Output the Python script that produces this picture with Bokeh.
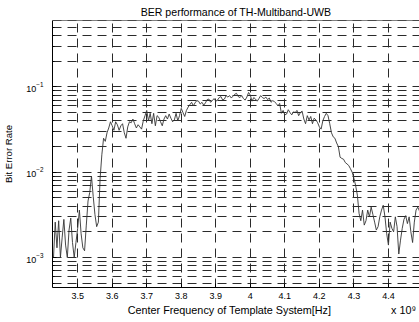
from bokeh.plotting import figure
from bokeh.models import FixedTicker, LogTickFormatter, Span, Range1d
from bokeh.embed import file_html
from bokeh.resources import INLINE

# Center frequency of template system (GHz, axis shows x 10^9)
freq_ghz = [
    3.430, 3.435, 3.440, 3.445, 3.450, 3.455, 3.460, 3.465, 3.470, 3.475,
    3.480, 3.485, 3.490, 3.495, 3.500, 3.505, 3.510, 3.515, 3.520, 3.525,
    3.530, 3.535, 3.540, 3.545, 3.550, 3.555, 3.560, 3.565, 3.570, 3.575,
    3.580, 3.585, 3.590, 3.595, 3.600, 3.605, 3.610, 3.615, 3.620, 3.625,
    3.630, 3.635, 3.640, 3.645, 3.650, 3.655, 3.660, 3.665, 3.670, 3.675,
    3.680, 3.685, 3.690, 3.695, 3.700, 3.705, 3.710, 3.715, 3.720, 3.725,
    3.730, 3.735, 3.740, 3.745, 3.750, 3.755, 3.760, 3.765, 3.770, 3.775,
    3.780, 3.785, 3.790, 3.795, 3.800, 3.805, 3.810, 3.815, 3.820, 3.825,
    3.830, 3.835, 3.840, 3.845, 3.850, 3.855, 3.860, 3.865, 3.870, 3.875,
    3.880, 3.885, 3.890, 3.895, 3.900, 3.905, 3.910, 3.915, 3.920, 3.925,
    3.930, 3.935, 3.940, 3.945, 3.950, 3.955, 3.960, 3.965, 3.970, 3.975,
    3.980, 3.985, 3.990, 3.995, 4.000, 4.005, 4.010, 4.015, 4.020, 4.025,
    4.030, 4.035, 4.040, 4.045, 4.050, 4.055, 4.060, 4.065, 4.070, 4.075,
    4.080, 4.085, 4.090, 4.095, 4.100, 4.105, 4.110, 4.115, 4.120, 4.125,
    4.130, 4.135, 4.140, 4.145, 4.150, 4.155, 4.160, 4.165, 4.170, 4.175,
    4.180, 4.185, 4.190, 4.195, 4.200, 4.205, 4.210, 4.215, 4.220, 4.225,
    4.230, 4.235, 4.240, 4.245, 4.250, 4.255, 4.260, 4.265, 4.270, 4.275,
    4.280, 4.285, 4.290, 4.295, 4.300, 4.305, 4.310, 4.315, 4.320, 4.325,
    4.330, 4.335, 4.340, 4.345, 4.350, 4.355, 4.360, 4.365, 4.370, 4.375,
    4.380, 4.385, 4.390, 4.395, 4.400, 4.405, 4.410, 4.415, 4.420, 4.425,
    4.430, 4.435, 4.440, 4.445, 4.450, 4.455, 4.460, 4.465, 4.470, 4.475,
    4.480, 4.485, 4.490,
]

# Bit error rate
ber = [
    1.0e-3, 2.6e-3, 1.3e-3, 2.7e-3, 1.0e-3, 1.7e-3, 2.8e-3, 1.4e-3, 1.0e-3, 2.1e-3,
    2.9e-3, 1.5e-3, 1.0e-3, 1.5e-3, 2.2e-3, 3.6e-3, 1.9e-3, 1.3e-3, 1.2e-3, 2.4e-3,
    4.6e-3, 5.8e-3, 9.0e-3, 5.2e-3, 3.2e-3, 2.3e-3, 2.6e-3, 8.5e-3, 1.6e-2, 2.5e-2,
    2.3e-2, 2.9e-2, 3.3e-2, 3.9e-2, 3.5e-2, 3.1e-2, 3.9e-2, 3.6e-2, 3.1e-2, 3.5e-2,
    3.7e-2, 2.9e-2, 2.5e-2, 3.4e-2, 3.9e-2, 3.8e-2, 4.2e-2, 3.7e-2, 3.3e-2, 3.6e-2,
    3.4e-2, 3.2e-2, 4.0e-2, 4.6e-2, 5.3e-2, 4.0e-2, 4.9e-2, 3.7e-2, 4.9e-2, 3.5e-2,
    4.6e-2, 4.4e-2, 3.9e-2, 3.5e-2, 4.2e-2, 4.6e-2, 4.2e-2, 4.8e-2, 4.3e-2, 3.9e-2,
    4.1e-2, 4.9e-2, 4.0e-2, 4.6e-2, 5.6e-2, 5.0e-2, 4.5e-2, 5.3e-2, 5.8e-2, 6.2e-2,
    6.6e-2, 6.0e-2, 6.5e-2, 6.9e-2, 6.8e-2, 6.3e-2, 6.6e-2, 6.1e-2, 6.5e-2, 7.1e-2,
    7.2e-2, 6.6e-2, 6.9e-2, 7.3e-2, 6.8e-2, 7.0e-2, 7.5e-2, 7.7e-2, 7.0e-2, 7.2e-2,
    7.9e-2, 7.6e-2, 7.9e-2, 7.4e-2, 7.8e-2, 8.2e-2, 8.4e-2, 7.7e-2, 7.5e-2, 7.9e-2,
    7.3e-2, 7.0e-2, 7.6e-2, 8.6e-2, 8.0e-2, 6.8e-2, 7.5e-2, 7.2e-2, 6.8e-2, 7.3e-2,
    7.9e-2, 7.5e-2, 7.3e-2, 7.6e-2, 7.1e-2, 7.4e-2, 6.6e-2, 6.9e-2, 6.7e-2, 6.4e-2,
    6.0e-2, 6.4e-2, 4.9e-2, 5.3e-2, 4.7e-2, 4.8e-2, 5.4e-2, 5.0e-2, 4.7e-2, 5.1e-2,
    5.0e-2, 5.3e-2, 4.6e-2, 5.0e-2, 5.2e-2, 4.2e-2, 3.7e-2, 4.6e-2, 4.1e-2, 4.5e-2,
    3.7e-2, 4.3e-2, 4.1e-2, 3.8e-2, 3.4e-2, 3.2e-2, 4.0e-2, 4.5e-2, 4.9e-2, 4.6e-2,
    3.7e-2, 2.9e-2, 2.6e-2, 2.5e-2, 2.2e-2, 2.0e-2, 1.5e-2, 1.45e-2, 1.42e-2, 1.3e-2,
    1.25e-2, 1.2e-2, 1.1e-2, 1.0e-2, 8.5e-3, 7.0e-3, 5.4e-3, 3.3e-3, 2.7e-3, 3.6e-3,
    2.4e-3, 2.7e-3, 3.6e-3, 3.0e-3, 3.9e-3, 3.2e-3, 2.6e-3, 2.1e-3, 2.3e-3, 3.0e-3,
    3.6e-3, 4.1e-3, 3.0e-3, 1.9e-3, 1.4e-3, 2.6e-3, 2.2e-3, 2.0e-3, 3.0e-3, 2.3e-3,
    1.1e-3, 1.6e-3, 2.2e-3, 2.8e-3, 3.1e-3, 2.5e-3, 3.0e-3, 2.0e-3, 1.5e-3, 2.6e-3,
    3.6e-3, 3.9e-3, 3.5e-3,
]

x_ticks = [3.5, 3.6, 3.7, 3.8, 3.9, 4.0, 4.1, 4.2, 4.3, 4.4]
x_tick_labels = ["3.5", "3.6", "3.7", "3.8", "3.9", "4", "4.1", "4.2", "4.3", "4.4"]
y_ticks = [1e-3, 1e-2, 1e-1]
y_decades = [1e-4, 1e-3, 1e-2, 1e-1]
y_mantissas = [2, 3, 4, 5, 6, 7, 8, 9]

x_title = "Center Frequency of Template System[Hz]"
x_multiplier = "x 10\u2079"
y_title = "Bit Error Rate"
chart_title = "BER performance of TH-Multiband-UWB"

x_lo, x_hi = 3.4271, 4.49
y_lo, y_hi = 10 ** -3.351, 10 ** -0.222

FONT = "Liberation Sans"
GRID = "#2a2a2a"
NBSP = "\u00a0"

p = figure(width=419, height=322, output_backend="svg", toolbar_location=None,
           y_axis_type="log", x_range=Range1d(x_lo, x_hi), y_range=Range1d(y_lo, y_hi),
           min_border_left=47, min_border_right=0, min_border_top=20, min_border_bottom=35,
           title=chart_title)
p.outline_line_color = None
p.background_fill_color = "white"
p.border_fill_color = "white"

p.title.text_font = FONT
p.title.text_font_size = "10.6px"
p.title.text_font_style = "normal"
p.title.text_color = "black"
p.title.align = "center"
p.title.standoff = 6

minor = [m * d for d in y_decades for m in y_mantissas]
p.xaxis.ticker = FixedTicker(ticks=x_ticks)
p.xaxis.major_label_overrides = dict(zip(x_ticks, x_tick_labels))
p.yaxis.ticker = FixedTicker(ticks=y_ticks, minor_ticks=minor)
p.yaxis.formatter = LogTickFormatter()

for ax in (p.xaxis[0], p.yaxis[0]):
    ax.axis_line_color = "black"
    ax.major_tick_line_color = "black"
    ax.minor_tick_line_color = "black"
    ax.major_tick_in = 4
    ax.major_tick_out = 0
    ax.minor_tick_in = 2
    ax.minor_tick_out = 0
    ax.major_label_text_font = FONT
    ax.major_label_text_font_size = "9px"
    ax.major_label_text_color = "black"
    ax.axis_label_text_font = FONT
    ax.axis_label_text_font_size = "10.8px"
    ax.axis_label_text_font_style = "normal"
    ax.axis_label_text_color = "black"

# x label: main title centred on the frame, the x 10^9 multiplier at the right end
p.xaxis.axis_label = NBSP * 24 + x_title + NBSP * 20 + x_multiplier
p.xaxis.major_label_standoff = 5
p.xaxis.axis_label_standoff = 2
p.yaxis.axis_label = y_title
p.yaxis.axis_label_text_font_size = "9.6px"
p.yaxis.major_label_standoff = 9
p.yaxis.axis_label_standoff = 9

for g in (p.xgrid[0], p.ygrid[0]):
    g.grid_line_color = GRID
    g.grid_line_dash = "9 6"
    g.grid_line_width = 1
p.ygrid.minor_grid_line_color = GRID
p.ygrid.minor_grid_line_dash = "9 6"
p.ygrid.minor_grid_line_width = 1

p.add_layout(Span(location=y_hi, dimension="width", line_color="black", line_width=1))

p.line(freq_ghz, ber, line_color="#333333", line_width=0.9)

open("out.html", "w").write(file_html(p, INLINE))
